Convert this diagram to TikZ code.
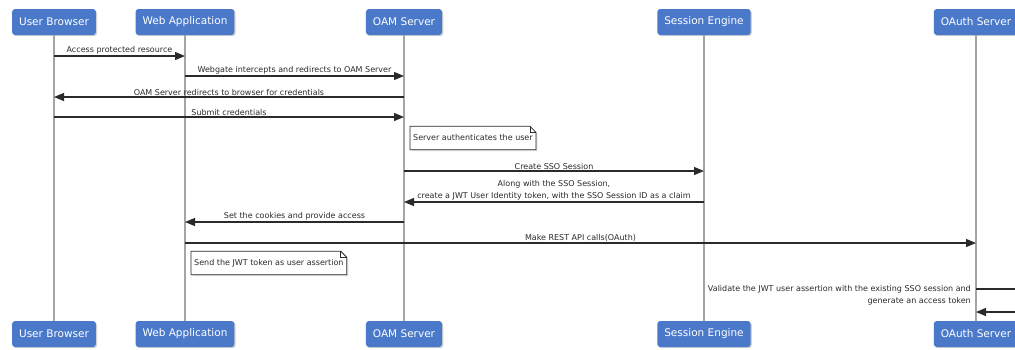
\documentclass[tikz,border=0pt]{standalone}
\usepackage{fontspec}
\setmainfont{DejaVu Sans}
\usetikzlibrary{arrows.meta, positioning, calc, shadows, backgrounds}
\definecolor{actorbg}{HTML}{4A79CA}
\definecolor{lifegray}{HTML}{A5A5A5}
\definecolor{msgdark}{HTML}{2A2A2A}

\begin{document}
\begin{tikzpicture}[x=1pt, y=-1pt,
  actor/.style={fill=actorbg, text=white, rounded corners=3pt, minimum height=26pt, inner xsep=7pt,
    font=\fontsize{10.5}{12}\selectfont, drop shadow={opacity=0.35, shadow xshift=1.2pt, shadow yshift=-1.2pt}},
  life/.style={lifegray, line width=1.5pt},
  msg/.style={msgdark, line width=1.2pt, -{Triangle[length=10pt, width=8pt]}},
  lbl/.style={font=\fontsize{8}{12}\selectfont, inner sep=1pt, text=msgdark, align=center},
  notetxt/.style={font=\fontsize{8}{12}\selectfont, text=msgdark, inner xsep=3pt, minimum height=23pt, anchor=west},
  notebox/.style={draw=msgdark, fill=white, line width=0.8pt, drop shadow={opacity=0.25, shadow xshift=1.5pt, shadow yshift=-1.5pt}},
  notefold/.style={msgdark, line width=0.6pt}]
  % Frame
  \clip (0,0) rectangle (1015,349);
  % Participants, top and bottom
  \node[actor] (ub) at (54,22) {User Browser};
  \node[actor] (wa) at (185,22) {Web Application};
  \node[actor] (oam) at (404,22) {OAM Server};
  \node[actor] (se) at (704,22) {Session Engine};
  \node[actor] (oa) at (976,22) {OAuth Server};
  \node[actor] (ub-b) at (54,334) {User Browser};
  \node[actor] (wa-b) at (185,334) {Web Application};
  \node[actor] (oam-b) at (404,334) {OAM Server};
  \node[actor] (se-b) at (704,334) {Session Engine};
  \node[actor] (oa-b) at (976,334) {OAuth Server};
  % Lifelines
  \foreach \p in {ub,wa,oam,se,oa}
    \draw[life] (\p.south) -- (\p-b.north);
  % Message rows
  \coordinate (r1) at (0,56);
  \coordinate (r2) at (0,76);
  \coordinate (r3) at (0,97);
  \coordinate (r4) at (0,117);
  \coordinate (r5) at (0,171);
  \coordinate (r6) at (0,202);
  \coordinate (r7) at (0,222);
  \coordinate (r8) at (0,243);
  \coordinate (r9) at (0,289);
  \coordinate (r10) at (0,312);
  % Messages
  \draw[msg] (ub |- r1) -- node[lbl, above] {Access protected resource} (wa |- r1);
  \draw[msg] (wa |- r2) -- node[lbl, above] {Webgate intercepts and redirects to OAM Server} (oam |- r2);
  \draw[msg] (oam |- r3) -- node[lbl, above] {OAM Server redirects to browser for credentials} (ub |- r3);
  \draw[msg] (ub |- r4) -- node[lbl, above] {Submit credentials} (oam |- r4);
  \draw[msg] (oam |- r5) -- node[lbl, above] {Create SSO Session} (se |- r5);
  \draw[msg] (se |- r6) -- node[lbl, above] {Along with the SSO Session,\\create a JWT User Identity token, with the SSO Session ID as a claim} (oam |- r6);
  \draw[msg] (oam |- r7) -- node[lbl, above] {Set the cookies and provide access} (wa |- r7);
  \draw[msg] (wa |- r8) -- node[lbl, above] {Make REST API calls(OAuth)} (oa |- r8);
  % Self call on the OAuth server
  \draw[msg] (oa |- r9) -- ++(60,0) |- (oa |- r10);
  \node[lbl, align=right, anchor=east] (val) at ([shift={(-4,6)}]oa |- r9)
    {Validate the JWT user assertion with the existing SSO session and\\generate an access token};
  % Notes
  \node[notetxt] (n1) at (410,138) {Server authenticates the user};
  \node[notetxt] (n2) at (191,263) {Send the JWT token as user assertion};
  \begin{scope}[on background layer]
    \foreach \n in {n1,n2}
      \draw[notebox] (\n.north west) -- ([xshift=-6pt]\n.north east) -- ([yshift=-6pt]\n.north east)
        -- (\n.south east) -- (\n.south west) -- cycle;
  \end{scope}
  \foreach \n in {n1,n2}
    \draw[notefold] ([xshift=-6pt]\n.north east) |- ([yshift=-6pt]\n.north east);
\end{tikzpicture}
\end{document}
